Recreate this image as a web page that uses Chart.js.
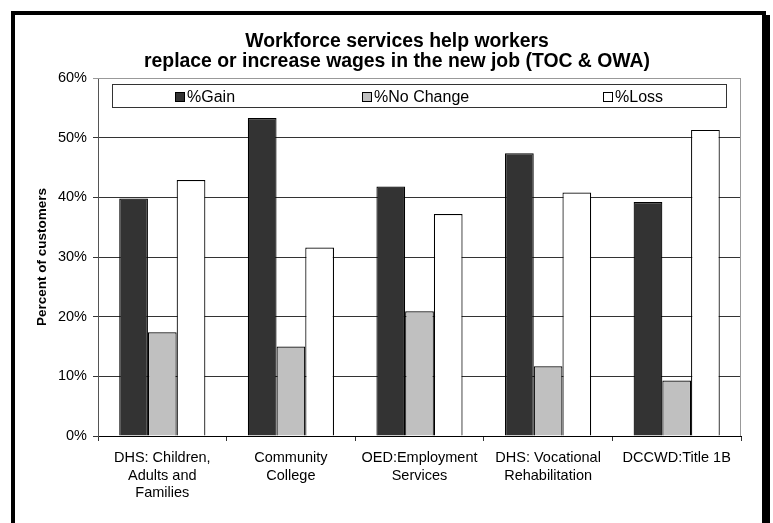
<!DOCTYPE html>
<html>
<head>
<meta charset="utf-8">
<title>Workforce services</title>
<script src="https://cdn.jsdelivr.net/npm/chart.js@4/dist/chart.umd.min.js"></script>
<style>
  html, body { margin: 0; padding: 0; background: #fff; }
  #wrap { position: relative; width: 773px; height: 523px; overflow: hidden; }
  #frame { position: absolute; left: 11px; top: 11px; width: 747px; height: 540px;
           border: 4px solid #000; border-bottom: none; box-shadow: 4px 4px 0 #000;
           pointer-events: none; }
</style>
</head>
<body>
<div id="wrap">
  <canvas id="chart"></canvas>
  <div id="frame"></div>
</div>
<script>
// --- data ---
const categories = [
  ['DHS: Children,', 'Adults and', 'Families'],
  ['Community', 'College'],
  ['OED:Employment', 'Services'],
  ['DHS: Vocational', 'Rehabilitation'],
  ['DCCWD:Title 1B']
];
const gainPct     = [39.8, 53.3, 41.8, 47.4, 39.2];
const noChangePct = [17.4, 15.0, 20.9, 11.7, 9.3];
const lossPct     = [42.9, 31.6, 37.2, 40.8, 51.3];
const titleLines  = ['Workforce services help workers', 'replace or increase wages in the new job (TOC & OWA)'];
const yMax = 60, yStep = 10;

const FONT = 'Arial, "Liberation Sans", sans-serif';

// two-line title, drawn by hand so it can sit off-centre like the original
const titlePlugin = {
  id: 'titleLines',
  afterDraw(chart) {
    const c = chart.ctx;
    c.save();
    c.font = 'bold 19.4px ' + FONT;
    c.fillStyle = '#000';
    c.textAlign = 'center';
    c.textBaseline = 'alphabetic';
    titleLines.forEach((t, i) => c.fillText(t, 397, 47 + i * 20));
    c.restore();
  }
};

// grey frame on the top/right of the plot
const plotFrame = {
  id: 'plotFrame',
  beforeDatasetsDraw(chart) {
    const a = chart.chartArea, c = chart.ctx;
    c.save();
    c.strokeStyle = '#999';
    c.lineWidth = 1;
    c.beginPath();
    c.moveTo(a.left, a.top + 0.5);
    c.lineTo(a.right - 0.5, a.top + 0.5);
    c.lineTo(a.right - 0.5, a.bottom);
    c.stroke();
    c.restore();
  }
};

// legend box inside the plot area
const boxLegend = {
  id: 'boxLegend',
  afterDraw(chart) {
    const c = chart.ctx;
    const box = {x: 112, y: 84, w: 614, h: 23};
    const itemX = [175, 362, 603];
    c.save();
    c.fillStyle = '#fff';
    c.fillRect(box.x, box.y, box.w, box.h);
    c.strokeStyle = '#333';
    c.lineWidth = 1;
    c.strokeRect(box.x + 0.5, box.y + 0.5, box.w, box.h);
    c.font = '16px ' + FONT;
    c.textBaseline = 'alphabetic';
    chart.data.datasets.forEach((ds, i) => {
      const x = itemX[i];
      c.fillStyle = ds.backgroundColor;
      c.fillRect(x, 92, 10, 10);
      c.strokeStyle = '#000';
      c.strokeRect(x + 0.5, 92.5, 9, 9);
      c.fillStyle = '#000';
      c.fillText(ds.label, x + 12, 102);
    });
    c.restore();
  }
};

new Chart(document.getElementById('chart'), {
  type: 'bar',
  data: {
    labels: categories,
    datasets: [
      {label: '%Gain', data: gainPct, backgroundColor: '#333333'},
      {label: '%No Change', data: noChangePct, backgroundColor: '#c0c0c0'},
      {label: '%Loss', data: lossPct, backgroundColor: '#ffffff'}
    ]
  },
  options: {
    responsive: true,
    maintainAspectRatio: false,
    animation: false,
    layout: {padding: {left: 20, right: 32, top: 78, bottom: 0}},
    datasets: {
      bar: {categoryPercentage: 0.67, barPercentage: 1, borderColor: '#000', borderWidth: 1.2}
    },
    plugins: {
      legend: {display: false},
      title: {display: false},
      tooltip: {enabled: false}
    },
    scales: {
      x: {
        afterFit: s => { s.height = 87; },
        grid: {display: true, drawOnChartArea: false, drawTicks: true, tickLength: 5, color: '#333', offset: true},
        border: {color: '#000', width: 1},
        ticks: {
          color: '#000', font: {family: FONT, size: 14.5, lineHeight: 1.22},
          padding: 8, maxRotation: 0, autoSkip: false
        }
      },
      y: {
        min: 0, max: yMax,
        afterFit: s => { s.width = 78; },
        grid: {
          color: ctx => ctx.tick && ctx.tick.value === yMax ? '#999' : '#333',
          tickLength: 5
        },
        border: {color: '#555', width: 1},
        ticks: {
          stepSize: yStep, color: '#000', padding: 6,
          font: {family: FONT, size: 14.5},
          callback: v => v + '%'
        },
        title: {
          display: true, text: 'Percent of customers', color: '#000',
          font: {family: FONT, size: 13.5, weight: 'bold'},
          padding: {top: 14, bottom: 0}
        }
      }
    }
  },
  plugins: [plotFrame, boxLegend, titlePlugin]
});
</script>
</body>
</html>
